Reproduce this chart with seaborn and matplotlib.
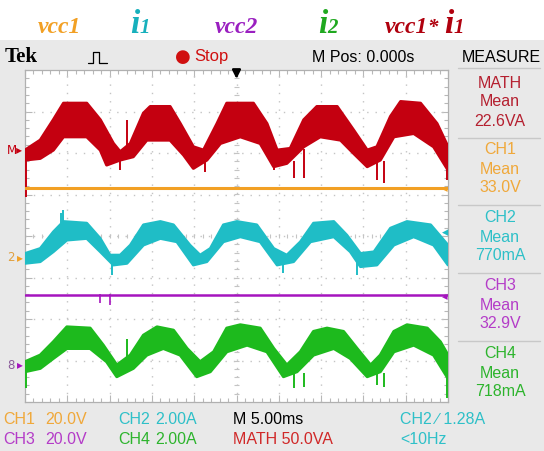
import numpy as np
import pandas as pd
import seaborn as sns
import matplotlib
matplotlib.use("Agg")
import matplotlib.pyplot as plt
from matplotlib.patches import Rectangle
from matplotlib.lines import Line2D
from matplotlib import font_manager

# ---------------- data (screen divisions: x 0..10, y 0..8) ----------------
red_up_x = [0.00, 0.36, 0.67, 0.91, 1.46, 1.78, 2.09, 2.25, 2.49, 2.80, 2.96, 3.43, 3.67, 3.98, 4.22, 4.54,
            4.77, 5.40, 5.72, 5.96, 6.27, 6.59, 6.90, 7.38, 7.77, 8.09, 8.32, 8.64, 8.88, 9.35, 9.74, 10.0]
red_up_y = [6.07, 6.31, 6.80, 7.20, 7.20, 6.80, 6.23, 6.03, 6.23, 6.96, 7.12, 7.12, 6.71, 6.15, 6.07, 6.71,
            7.20, 7.20, 6.71, 6.07, 6.11, 6.80, 7.12, 7.12, 6.55, 6.07, 6.15, 6.88, 7.24, 7.20, 6.71, 6.15]
red_lo_x = [0.00, 0.36, 0.67, 0.91, 1.46, 1.78, 1.93, 2.25, 2.56, 2.88, 3.43, 3.75, 3.98, 4.30, 4.62, 5.09,
            5.56, 5.88, 6.19, 6.59, 6.98, 7.46, 7.77, 8.09, 8.40, 8.72, 9.19, 9.66, 10.0]
red_lo_y = [5.83, 5.87, 6.07, 6.39, 6.39, 6.07, 5.71, 5.83, 5.91, 6.31, 6.31, 5.95, 5.63, 5.83, 6.23, 6.39,
            6.23, 5.67, 5.75, 6.15, 6.39, 6.31, 5.99, 5.67, 5.83, 6.39, 6.47, 6.15, 5.59]
red_spk_x = [0.02, 2.25, 2.41, 4.26, 5.88, 6.35, 6.59, 8.32, 8.48, 9.98]
red_spk_lo = [4.95, 5.59, 5.90, 5.55, 5.59, 5.39, 5.39, 5.35, 5.27, 5.35]
red_spk_hi = [6.00, 5.85, 6.80, 5.85, 5.75, 5.80, 6.10, 5.85, 5.80, 5.80]

orange_x = [0.0, 10.0]
orange_y = [5.16, 5.16]

cyan_up_x = [0.00, 0.36, 0.67, 0.91, 1.46, 1.78, 2.01, 2.25, 2.49, 2.80, 3.20, 3.51, 3.90, 4.14, 4.38,
             4.69, 5.01, 5.48, 5.88, 6.19, 6.51, 6.82, 7.30, 7.61, 7.93, 8.25, 8.64, 9.03, 9.59, 10.0]
cyan_up_y = [3.58, 3.70, 4.10, 4.35, 4.31, 3.94, 3.54, 3.54, 3.78, 4.27, 4.35, 4.27, 3.78, 3.54, 3.70,
             4.27, 4.35, 4.27, 3.70, 3.54, 3.86, 4.31, 4.35, 4.02, 3.58, 3.62, 4.19, 4.35, 4.27, 3.78]
cyan_lo_x = [0.00, 0.36, 0.67, 0.99, 1.46, 1.78, 2.09, 2.41, 2.80, 3.20, 3.59, 3.98, 4.30, 4.69, 5.09,
             5.56, 5.96, 6.35, 6.75, 7.30, 7.69, 7.93, 8.32, 8.72, 9.19, 9.66, 10.0]
cyan_lo_y = [3.34, 3.38, 3.62, 3.90, 3.94, 3.62, 3.30, 3.34, 3.78, 3.94, 3.86, 3.30, 3.38, 3.86, 3.98,
             3.86, 3.30, 3.38, 3.86, 3.98, 3.62, 3.26, 3.30, 3.78, 3.98, 3.78, 3.30]
cyan_spk_x = [0.86, 0.91, 2.05, 6.11, 7.85]
cyan_spk_lo = [4.00, 4.00, 3.06, 3.10, 3.06]
cyan_spk_hi = [4.55, 4.63, 3.40, 3.40, 3.40]

purple_x = [0.0, 10.0]
purple_y = [2.58, 2.58]
purple_spk_x = [1.78, 2.01]
purple_spk_lo = [2.38, 2.34]
purple_spk_hi = [2.60, 2.60]

green_up_x = [0.00, 0.36, 0.67, 0.99, 1.54, 1.85, 2.17, 2.49, 2.80, 3.12, 3.51, 3.83, 4.14, 4.46, 4.77,
              5.09, 5.56, 5.88, 6.19, 6.51, 6.82, 7.14, 7.53, 7.85, 8.17, 8.40, 8.72, 9.03, 9.51, 9.82, 10.0]
green_up_y = [0.97, 1.13, 1.45, 1.81, 1.78, 1.37, 0.89, 1.13, 1.61, 1.81, 1.73, 1.29, 0.97, 1.21, 1.78,
              1.86, 1.78, 1.29, 0.89, 1.21, 1.70, 1.78, 1.70, 1.29, 0.89, 1.13, 1.70, 1.86, 1.78, 1.45, 1.13]
green_lo_x = [0.00, 0.36, 0.67, 0.99, 1.54, 1.93, 2.17, 2.56, 2.88, 3.27, 3.67, 4.06, 4.38, 4.77, 5.25,
              5.72, 6.11, 6.43, 6.82, 7.30, 7.69, 8.09, 8.40, 8.72, 9.19, 9.66, 10.0]
green_lo_y = [0.73, 0.81, 1.05, 1.29, 1.29, 0.97, 0.61, 0.81, 1.13, 1.29, 1.13, 0.61, 0.73, 1.21, 1.37,
              1.21, 0.61, 0.73, 1.13, 1.29, 1.05, 0.61, 0.73, 1.21, 1.37, 1.13, 0.57]
green_spk_x = [0.02, 2.41, 6.35, 6.59, 8.32, 8.48, 9.98]
green_spk_lo = [0.33, 0.95, 0.33, 0.37, 0.41, 0.37, 0.09]
green_spk_hi = [0.75, 1.53, 0.70, 0.70, 0.70, 0.70, 0.60]

ground_levels = {"M": 6.07, "2": 3.47, "4": 0.89}

measure_names = ["MATH", "CH1", "CH2", "CH3", "CH4"]
measure_values = ["22.6VA", "33.0V", "770mA", "32.9V", "718mA"]

# ---------------- style ----------------
RED = "#C40010"
ORANGE = "#F2A024"
CYAN = "#1FBDC6"
PURPLE = "#A514BE"
GREEN = "#1DBA1D"
BG = "#E9E9E9"

sns.set_theme(style="white")
names = {f.name for f in font_manager.fontManager.ttflist}
NARROW = "Liberation Sans Narrow" if "Liberation Sans Narrow" in names else "Liberation Sans"
plt.rcParams["font.family"] = [NARROW, "DejaVu Sans"]

W, H = 544, 451
fig = plt.figure(figsize=(W / 100, H / 100), dpi=100)
fig.patch.set_facecolor("white")


def fx(px):
    return px / W


def fy(py):
    return 1 - py / H


# gray scope body
fig.patches.append(Rectangle((0, 0), 1, fy(40), transform=fig.transFigure,
                             facecolor=BG, edgecolor="none", zorder=-5))

# ---------------- title labels ----------------
SERIF = "Liberation Serif"
base = fy(33)


def tlabel(px, parts):
    x = px
    for txt, size, col in parts:
        t = fig.text(fx(x), base, txt, fontsize=size, color=col, family=SERIF,
                     fontweight="bold", fontstyle="italic", ha="left", va="baseline")
        r = fig.canvas.get_renderer()
        bb = t.get_window_extent(renderer=r)
        x += bb.width


tlabel(38, [("vcc1", 17, ORANGE)])
tlabel(130, [("i", 24, "#17B0BC"), ("1", 15, "#17B0BC")])
tlabel(215, [("vcc2", 17, "#9A1FC0")])
tlabel(318, [("i", 24, "#1FA81F"), ("2", 15, "#1FA81F")])
tlabel(385, [("vcc1", 17, "#B0000E"), ("* ", 15, "#B0000E"), ("i", 24, "#B0000E"), ("1", 15, "#B0000E")])

# ---------------- header bar ----------------
hy = fy(57)
fig.text(fx(5), hy, "Tek", family=SERIF, fontweight="bold", fontsize=15, color="black",
         ha="left", va="center")
fig.lines.append(Line2D([fx(88), fx(93), fx(93), fx(99), fx(99), fx(107)],
                        [fy(63), fy(63), fy(52), fy(52), fy(63), fy(63)],
                        transform=fig.transFigure, color="black", lw=0.9))
fig.text(fx(183), hy, "●", color="#D01010", fontsize=13, ha="center", va="center",
         family="DejaVu Sans")
fig.text(fx(194), hy, "Stop", color="#D01010", fontsize=12, ha="left", va="center")
fig.text(fx(312), hy, "M Pos: 0.000s", color="black", fontsize=11.5, ha="left", va="center")
fig.text(fx(501), hy, "MEASURE", color="black", fontsize=11.5, ha="center", va="center")

# ---------------- scope screen ----------------
ax = fig.add_axes([fx(25), fy(402), fx(448) - fx(25), fy(70) - fy(402)])
ax.set_zorder(2)
ax.set_facecolor("white")
ax.set_xlim(0, 10)
ax.set_ylim(0, 8)

for i in range(1, 10):
    ax.axvline(i, color="#C4C4C4", lw=1.0, ls=(0, (1, 5)), zorder=1)
for j in range(1, 8):
    ax.axhline(j, color="#C4C4C4", lw=1.0, ls=(0, (1, 5)), zorder=1)
ax.vlines(np.arange(0.2, 10, 0.2), 3.94, 4.06, color="#C4C4C4", lw=0.8, zorder=1)
ax.hlines(np.arange(0.2, 8, 0.2), 4.94, 5.06, color="#C4C4C4", lw=0.8, zorder=1)

ax.set_xticks(np.arange(0, 10.01, 1))
ax.set_yticks(np.arange(0, 8.01, 1))
ax.set_xticks(np.arange(0, 10.01, 0.2), minor=True)
ax.set_yticks(np.arange(0, 8.01, 0.2), minor=True)
ax.tick_params(which="both", direction="in", top=True, right=True, bottom=True, left=True,
               labelbottom=False, labelleft=False, color="#B8B8B8")
ax.tick_params(which="major", length=5, width=0.8)
ax.tick_params(which="minor", length=3, width=0.8)
for s in ax.spines.values():
    s.set_color("#B0B0B0")
    s.set_linewidth(0.9)


def band(ux, uy, lx, ly, color, lw):
    ax.fill(np.r_[ux, lx[::-1]], np.r_[uy, ly[::-1]], color=color, lw=0, zorder=3)
    up = pd.DataFrame({"x": ux, "y": uy})
    lo = pd.DataFrame({"x": lx, "y": ly})
    sns.lineplot(data=up, x="x", y="y", ax=ax, color=color, lw=lw, sort=False, zorder=3)
    sns.lineplot(data=lo, x="x", y="y", ax=ax, color=color, lw=lw, sort=False, zorder=3)


band(red_up_x, red_up_y, red_lo_x, red_lo_y, RED, 2.2)
ax.vlines(red_spk_x, red_spk_lo, red_spk_hi, color=RED, lw=1.4, zorder=3)

sns.lineplot(x=orange_x, y=orange_y, ax=ax, color=ORANGE, lw=2.2, zorder=3)

band(cyan_up_x, cyan_up_y, cyan_lo_x, cyan_lo_y, CYAN, 2.0)
ax.vlines(cyan_spk_x, cyan_spk_lo, cyan_spk_hi, color=CYAN, lw=1.4, zorder=3)

sns.lineplot(x=purple_x, y=purple_y, ax=ax, color=PURPLE, lw=1.8, zorder=3)
ax.vlines(purple_spk_x, purple_spk_lo, purple_spk_hi, color=PURPLE, lw=1.2, zorder=3)

band(green_up_x, green_up_y, green_lo_x, green_lo_y, GREEN, 2.2)
ax.vlines(green_spk_x, green_spk_lo, green_spk_hi, color=GREEN, lw=1.4, zorder=3)

ax.set_xlim(0, 10)
ax.set_ylim(0, 8)
ax.set_xlabel("")
ax.set_ylabel("")

# trigger position arrow
ax.annotate("", xy=(5.0, 7.72), xytext=(5.0, 8.02),
            arrowprops=dict(arrowstyle="-|>", color="black", lw=1.8, mutation_scale=12),
            annotation_clip=False, zorder=6)

# ground markers on the left
tr = ax.get_yaxis_transform()
ax.text(-0.005, ground_levels["M"], "M▸", transform=tr, color=RED, fontsize=8.5, ha="right",
        va="center", clip_on=False, family="DejaVu Sans")
ax.text(-0.005, ground_levels["2"], "▸", transform=tr, color=ORANGE, fontsize=8.5, ha="right",
        va="center", clip_on=False, family="DejaVu Sans")
ax.text(-0.025, ground_levels["2"], "2", transform=tr, color="#E0A040", fontsize=8.5, ha="right",
        va="center", clip_on=False, family="DejaVu Sans")
ax.text(-0.005, ground_levels["4"], "▸", transform=tr, color=PURPLE, fontsize=8.5, ha="right",
        va="center", clip_on=False, family="DejaVu Sans")
ax.text(-0.025, ground_levels["4"], "8", transform=tr, color="#8A5A9A", fontsize=8.5, ha="right",
        va="center", clip_on=False, family="DejaVu Sans")

# right-edge level markers
ax.text(1.0, 5.12, "◂", transform=tr, color=ORANGE, fontsize=8, ha="right", va="center",
        clip_on=False, family="DejaVu Sans", zorder=6)
ax.text(1.0, 4.07, "◂", transform=tr, color=CYAN, fontsize=9, ha="right", va="center",
        clip_on=False, family="DejaVu Sans", zorder=6)
ax.text(1.0, 2.53, "◂", transform=tr, color=PURPLE, fontsize=8, ha="right", va="center",
        clip_on=False, family="DejaVu Sans", zorder=6)

# ---------------- measure panel ----------------
mcolors = ["#B52030", "#F0A83A", "#2EC0C8", "#B43CC8", "#2DB42D"]
tops = [83, 150, 218, 286, 354]
cx = fx(500)
fig.lines.append(Line2D([fx(458), fx(540)], [fy(68), fy(68)], transform=fig.transFigure,
                        color="#C8C8C8", lw=1))
for k, (nm, val, col, t0) in enumerate(zip(measure_names, measure_values, mcolors, tops)):
    fig.text(cx, fy(t0), nm, color=col, fontsize=11.5, ha="center", va="center")
    fig.text(cx, fy(t0 + 19), "Mean", color=col, fontsize=11.5, ha="center", va="center")
    fig.text(cx, fy(t0 + 38), val, color=col, fontsize=11.5, ha="center", va="center")
    if k < 4:
        fig.lines.append(Line2D([fx(458), fx(540)], [fy(t0 + 55), fy(t0 + 55)],
                                transform=fig.transFigure, color="#C8C8C8", lw=1))

# ---------------- bottom status bar ----------------
r1, r2 = fy(419), fy(440)
fs = 11.5
fig.text(fx(3), r1, "CH1", color="#F0A83A", fontsize=fs, va="center")
fig.text(fx(45), r1, "20.0V", color="#F0A83A", fontsize=fs, va="center")
fig.text(fx(118), r1, "CH2", color="#2EC0C8", fontsize=fs, va="center")
fig.text(fx(155), r1, "2.00A", color="#2EC0C8", fontsize=fs, va="center")
fig.text(fx(233), r1, "M 5.00ms", color="black", fontsize=fs, va="center")
fig.text(fx(400), r1, "CH2 ∕ 1.28A", color="#2EC0C8", fontsize=fs, va="center")
fig.text(fx(3), r2, "CH3", color="#B43CC8", fontsize=fs, va="center")
fig.text(fx(45), r2, "20.0V", color="#B43CC8", fontsize=fs, va="center")
fig.text(fx(118), r2, "CH4", color="#2DB42D", fontsize=fs, va="center")
fig.text(fx(155), r2, "2.00A", color="#2DB42D", fontsize=fs, va="center")
fig.text(fx(233), r2, "MATH 50.0VA", color="#D02828", fontsize=fs, va="center")
fig.text(fx(400), r2, "<10Hz", color="#2EC0C8", fontsize=fs, va="center")

fig.savefig("out.png", dpi=100, facecolor=fig.get_facecolor())
